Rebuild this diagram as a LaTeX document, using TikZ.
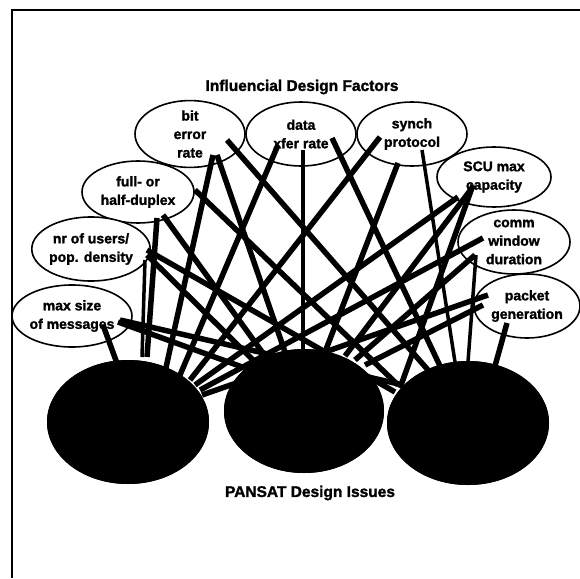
\documentclass[tikz,border=0pt]{standalone}
\usepackage{fontspec}
\setmainfont{Liberation Sans}[BoldFeatures={FakeBold=1.6}]
\usetikzlibrary{shapes.geometric}
\begin{document}
\begin{tikzpicture}[x=1pt,y=-1pt,
  factor/.style={ellipse, draw, line width=1.6pt, fill=white, inner sep=0pt,
    align=center, font=\fontsize{14}{18.5}\selectfont\bfseries},
  issue/.style={ellipse, fill=black, inner sep=0pt},
  link/.style={line width=5.5pt},
  thinlink/.style={line width=3.5pt},
  caption/.style={font=\fontsize{15.5}{18}\selectfont\bfseries},
  frameline/.style={line width=2.2pt}]
\useasboundingbox (0,0) rectangle (580,578);

% open frame: top and left edges
\coordinate (fTL) at (12,10);
\coordinate (fTR) at (580,10);
\coordinate (fBL) at (12,578);
\draw[frameline] (fTR) -- (fTL) -- (fBL);

\node[caption] (top) at (302,87) {Influencial Design Factors};

% design factors
\node[factor, minimum width=110pt, minimum height=64pt] (bit)    at (190,134) {bit\\error\\rate};
\node[factor, minimum width=110pt, minimum height=64pt] (data)   at (301,134) {data\\xfer rate};
\node[factor, minimum width=110pt, minimum height=64pt] (synch)  at (412,134) {synch\\protocol};
\node[factor, minimum width=114pt, minimum height=60pt] (scu)    at (494,177) {SCU max\\capacity};
\node[factor, minimum width=112pt, minimum height=64pt] (comm)   at (514,242) {comm\\window\\duration};
\node[factor, minimum width=106pt, minimum height=64pt] (packet) at (527,306) {packet\\generation};
\node[factor, minimum width=112pt, minimum height=62pt] (duplex) at (138,192) {full- or\\half-duplex};
\node[factor, minimum width=104pt, minimum height=64pt] (users)  at (91,249)  {nr of users/\\pop. density};
\node[factor, minimum width=112pt, minimum height=62pt] (msg)    at (72,316)  {max size\\of messages};

% design issues
\node[issue, minimum width=162pt, minimum height=124pt] (L) at (128,422) {};
\node[issue, minimum width=160pt, minimum height=124pt] (M) at (304,411) {};
\node[issue, minimum width=162pt, minimum height=124pt] (R) at (468,423) {};

% influence links, factor -> issue
\draw[link]     ([shift={(23,21)}]bit.center)    -- ([shift={(37,-50)}]L.center);
\draw[link]     ([shift={(27,21)}]bit.center)    -- ([shift={(-19,-59)}]M.center);
\draw[link]     ([shift={(37,6)}]bit.center)     -- ([shift={(-40,-53)}]R.center);
\draw[link]     ([shift={(-23,11)}]data.center)  -- ([shift={(52,-47)}]L.center);
\draw[thinlink] ([shift={(2,16)}]data.center)    -- ([shift={(-1,-59)}]M.center);
\draw[link]     ([shift={(31,4)}]data.center)    -- ([shift={(-28,-57)}]R.center);
\draw[link]     ([shift={(-32,3)}]synch.center)  -- ([shift={(62,-42)}]L.center);
\draw[link]     ([shift={(-14,29)}]synch.center) -- ([shift={(21,-59)}]M.center);
\draw[thinlink] ([shift={(10,16)}]synch.center)  -- ([shift={(-13,-61)}]R.center);
\draw[link]     ([shift={(-36,20)}]scu.center)   -- ([shift={(67,-37)}]L.center);
\draw[link]     ([shift={(-22,11)}]scu.center)   -- ([shift={(41,-55)}]M.center);
\draw[link]     ([shift={(-21,8)}]scu.center)    -- ([shift={(-68,-35)}]R.center);
\draw[link]     ([shift={(-31,-4)}]comm.center)  -- ([shift={(72,-32)}]L.center);
\draw[link]     ([shift={(-39,13)}]comm.center)  -- ([shift={(51,-51)}]M.center);
\draw[thinlink] ([shift={(-38,13)}]comm.center)  -- ([shift={(0,-61)}]R.center);
\draw[link]     ([shift={(-39,-11)}]packet.center) -- ([shift={(74,-27)}]L.center);
\draw[link]     ([shift={(-44,-1)}]packet.center)  -- ([shift={(61,-46)}]M.center);
\draw[link]     ([shift={(-20,17)}]packet.center)  -- ([shift={(27,-57)}]R.center);
\draw[link]     ([shift={(19,26)}]duplex.center) -- ([shift={(19,-65)}]L.center);
\draw[link]     ([shift={(25,23)}]duplex.center) -- ([shift={(-39,-55)}]M.center);
\draw[link]     ([shift={(57,-2)}]duplex.center) -- ([shift={(-70,-38)}]R.center);
\draw[thinlink] ([shift={(54,11)}]users.center)  -- ([shift={(14,-65)}]L.center);
\draw[link]     ([shift={(56,6)}]users.center)   -- ([shift={(-49,-49)}]M.center);
\draw[link]     ([shift={(56,1)}]users.center)   -- ([shift={(-73,-31)}]R.center);
\draw[link]     ([shift={(31,9)}]msg.center)     -- ([shift={(-10,-56)}]L.center);
\draw[link]     ([shift={(46,6)}]msg.center)     -- ([shift={(-59,-43)}]M.center);
\draw[link]     ([shift={(48,4)}]msg.center)     -- ([shift={(-65,-38)}]R.center);

% redraw issue bodies over the link ends
\fill (L) ellipse [x radius=81, y radius=62];
\fill (M) ellipse [x radius=80, y radius=62];
\fill (R) ellipse [x radius=81, y radius=62];

\node[caption] (bottom) at (310,493) {PANSAT Design Issues};
\end{tikzpicture}
\end{document}
